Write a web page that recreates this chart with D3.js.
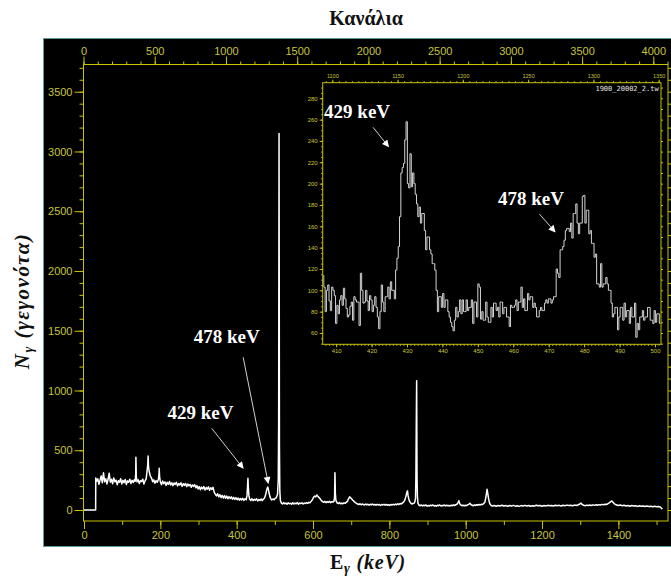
<!DOCTYPE html>
<html>
<head>
<meta charset="utf-8">
<script src="https://cdn.jsdelivr.net/npm/d3@7"></script>
<style>
  html, body { margin: 0; padding: 0; background: #ffffff; }
  svg { display: block; }
</style>
</head>
<body>
<script>
// ---------------- data ----------------
// Gamma spectrum: [energy in keV, counts]
const spectrum = [
  [0,0],[30.5,0],[30.8,268],[33,240],[36,262],[39,215],[42,250],[45,285],[48,228],[51,312],[54,236],[57,262],
  [60,218],[63,255],[66,308],[69,232],[72,258],[75,220],[78,268],[81,236],[84,250],[87,212],[90,245],[93,232],
  [96,262],[99,218],[102,248],[105,228],[108,256],[111,214],[114,244],[117,232],[120,258],[123,222],[126,248],
  [129,230],[132,252],[134,240],[135.5,300],[136,441],[137,280],[139,236],[142,252],[145,222],[148,246],[151,238],
  [154,258],[157,218],[160,244],[163,262],[165,320],[167,380],[168,452],[169,360],[171,318],[174,282],[177,268],
  [180,236],[183,252],[186,224],[189,246],[192,232],[195,258],[196.5,300],[197,349],[198,280],[200,236],[203,212],
  [206,242],[209,220],[212,236],[215,206],[218,232],[221,214],[224,238],[227,210],[230,228],[233,204],[236,226],
  [239,214],[242,232],[245,202],[248,222],[251,210],[254,228],[257,198],[260,220],[263,206],[266,222],[269,196],
  [272,218],[275,202],[278,214],[281,190],[284,210],[287,198],[290,212],[293,186],[296,204],[299,176],[302,196],
  [305,170],[308,192],[311,176],[314,196],[317,168],[320,188],[323,174],[326,194],[329,166],[332,186],[335,172],
  [338,190],[341,150],[344,132],[347,118],[350,136],[353,110],[356,128],[359,104],[362,122],[365,100],[368,120],
  [371,98],[374,116],[377,94],[380,112],[383,96],[386,110],[389,90],[392,106],[395,88],[398,104],[401,86],
  [404,100],[407,82],[410,96],[413,84],[416,98],[419,80],[422,94],[425,86],[427,120],[428.5,200],[429.5,265],
  [430.5,190],[432,120],[434,90],[437,80],[440,94],[443,78],[446,90],[449,82],[452,94],[455,76],[458,88],
  [461,80],[464,92],[467,78],[470,92],[473,100],[476,130],[478,160],[480,182],[481.5,192],[483,172],[485,140],
  [487,112],[489,96],[492,84],[495,92],[498,86],[501,98],[504,104],[507,130],[509,260],[510,740],[511,3150],
  [512,545],[513,160],[514.5,80],[517,58],[520,50],[523,62],[526,52],[529,58],[532,48],[535,60],[538,52],
  [541,57],[544,48],[547,60],[550,50],[553,58],[556,52],[559,62],[562,48],[565,58],[568,54],[571,60],[574,50],
  [577,58],[580,54],[583,62],[586,56],[589,64],[592,60],[595,72],[598,84],[601,104],[604,116],[607,110],[610,126],
  [613,112],[616,104],[619,92],[622,78],[625,70],[628,64],[631,72],[634,62],[637,70],[640,64],[643,72],[646,62],
  [649,70],[652,66],[655,74],[656.5,110],[657.5,312],[658.5,140],[660,80],[663,60],[666,54],[669,62],[672,52],
  [675,58],[678,52],[681,60],[684,56],[687,64],[690,72],[693,94],[696,110],[699,100],[702,90],[705,80],[708,70],
  [711,62],[714,56],[717,50],[720,46],[723,52],[726,44],[729,50],[732,46],[735,42],[738,50],[741,44],[744,48],
  [747,40],[750,48],[753,44],[756,50],[759,42],[762,46],[765,40],[768,48],[771,42],[774,46],[777,38],[780,46],
  [783,42],[786,48],[789,40],[792,46],[795,40],[798,44],[801,38],[804,46],[807,42],[810,48],[813,42],[816,50],
  [819,44],[822,52],[825,46],[828,54],[831,50],[834,58],[837,66],[840,80],[843,110],[846,150],[847.5,160],
  [849,120],[851,92],[853,72],[856,58],[859,50],[862,54],[865,58],[867,70],[868.5,100],[869.5,268],[870.5,711],
  [871.5,1082],[872.5,268],[873.5,110],[875,55],[878,40],[881,36],[884,42],[887,34],[890,40],[893,36],[896,42],
  [899,32],[902,38],[905,34],[908,40],[911,36],[914,42],[917,34],[920,38],[923,32],[926,40],[929,36],[932,42],
  [935,34],[938,38],[941,36],[944,42],[947,34],[950,40],[953,36],[956,38],[959,34],[962,40],[965,36],[968,42],
  [971,38],[974,44],[977,48],[980,62],[982,78],[984,56],[987,42],[990,36],[993,40],[996,34],[999,40],[1002,36],
  [1005,42],[1008,48],[1011,56],[1014,44],[1017,40],[1020,36],[1023,42],[1026,38],[1029,44],[1032,40],[1035,46],
  [1038,42],[1041,48],[1044,46],[1047,54],[1050,64],[1052,92],[1054,130],[1056,173],[1058,134],[1060,96],
  [1062,64],[1064,48],[1067,38],[1070,34],[1075,38],[1080,32],[1085,38],[1090,34],[1095,40],[1100,33],[1105,37],
  [1110,31],[1115,38],[1120,34],[1125,39],[1130,32],[1135,36],[1140,30],[1145,37],[1150,33],[1155,39],[1160,34],
  [1165,38],[1170,31],[1175,36],[1180,34],[1185,40],[1190,35],[1195,38],[1200,32],[1205,37],[1210,33],[1215,39],
  [1220,35],[1225,38],[1230,34],[1235,40],[1240,36],[1245,39],[1250,34],[1255,40],[1260,36],[1265,41],[1270,37],
  [1275,40],[1280,35],[1285,41],[1290,38],[1295,44],[1299,50],[1302,58],[1305,46],[1309,40],[1313,36],[1317,41],
  [1321,37],[1325,42],[1329,38],[1333,43],[1337,39],[1341,44],[1345,40],[1349,45],[1353,42],[1357,47],[1361,44],
  [1365,48],[1369,46],[1373,54],[1377,62],[1380,70],[1383,76],[1386,64],[1389,54],[1392,46],[1396,42],[1400,38],
  [1405,42],[1410,36],[1415,40],[1420,34],[1425,38],[1430,32],[1435,37],[1440,33],[1445,36],[1450,30],[1455,35],
  [1460,31],[1465,34],[1470,29],[1475,33],[1480,30],[1485,32],[1490,28],[1495,31],[1500,27],[1505,30],[1509,26],
  [1512,18],[1515,6]
];

// Zoomed region, counts per channel starting at insetFirstChannel
const insetFirstChannel = 1093;
const insetCounts = [
  114,103,80,100,105,90,81,103,100,95,69,86,78,91,95,86,102,92,83,75,
  77,85,89,72,94,91,89,89,67,116,100,88,89,100,90,81,95,91,80,86,
  94,84,75,64,80,105,89,80,94,94,103,92,108,100,100,92,119,130,141,169,
  210,215,219,241,258,200,196,228,197,210,200,190,181,169,178,163,172,172,156,138,
  150,150,138,134,125,125,119,100,80,94,94,84,97,84,91,91,80,75,70,66,
  62,72,84,75,80,91,78,91,80,80,91,81,84,84,91,69,89,89,75,106,
  103,73,80,72,72,89,75,70,70,84,75,88,88,81,84,75,89,89,78,84,
  84,75,75,66,86,84,84,86,91,81,89,89,103,84,92,81,81,97,91,94,
  94,84,88,84,75,75,81,84,81,81,88,91,88,92,92,88,91,94,94,120,
  116,112,138,138,141,147,156,158,158,155,163,149,172,172,181,163,153,163,163,188,
  189,163,175,175,153,156,144,144,131,134,106,106,103,125,103,106,106,112,106,100,
  100,88,75,78,84,84,63,75,84,84,72,88,75,81,81,69,84,75,75,88,
  56,69,63,75,75,81,72,75,75,84,84,72,72,69,81,70,78,78,69
];

// Axis tick labels
const keVTicks = [0, 200, 400, 600, 800, 1000, 1200, 1400];
const channelTicks = [0, 500, 1000, 1500, 2000, 2500, 3000, 3500, 4000];
const countTicks = [0, 500, 1000, 1500, 2000, 2500, 3000, 3500];
const insetKeVTicks = [410, 420, 430, 440, 450, 460, 470, 480, 490, 500];
const insetChannelTicks = [1100, 1150, 1200, 1250, 1300, 1350];
const insetCountTicks = [60, 80, 100, 120, 140, 160, 180, 200, 220, 240, 260, 280];

// Peak annotations (main panel in keV/counts, inset in keV/counts)
const mainNotes = [
  { label: "429 keV", at: [305, 761], from: [334.5, 684], to: [417, 349] },
  { label: "478 keV", at: [373.8, 1400], from: [417, 1278], to: [482.7, 223] }
];
const insetNotes = [
  { label: "429 keV", at: [415.9, 261.2], from: [420.4, 252.8], to: [424.8, 234.6] },
  { label: "478 keV", at: [465.0, 179.9], from: [467.4, 171.4], to: [471.8, 154.8] }
];
const insetFileName = "1900_20002_2.tw";

// ---------------- drawing ----------------
const W = 671, H = 577;
const AXIS = "#c8c400", AXIS_TEXT = "#c8c43c";
const TICK_FONT = "'Liberation Sans', Arial, sans-serif";

const svg = d3.select("body").append("svg").attr("width", W).attr("height", H);

const defs = svg.append("defs");
defs.append("marker")
  .attr("id", "arrow").attr("viewBox", "0 0 10 10")
  .attr("refX", 9).attr("refY", 5)
  .attr("markerWidth", 9).attr("markerHeight", 7)
  .attr("markerUnits", "userSpaceOnUse")
  .attr("orient", "auto")
  .append("path").attr("d", "M0,0 L10,5 L0,10 Z").attr("fill", "#ffffff");

// dark plotting panel
svg.append("rect").attr("x", 43.5).attr("y", 38.5).attr("width", 640).attr("height", 508)
  .attr("fill", "#000000").attr("stroke", "#5f9a9a").attr("stroke-width", 1);

// main scales
const frame = { left: 83.5, right: 668, top: 64.5, bottom: 521 };
const x = d3.scaleLinear().domain([0, 1530]).range([84, 668]);
const xCh = d3.scaleLinear().domain([0, 4103]).range([83.5, 668]);
const y = d3.scaleLinear().domain([-92, 3732]).range([521, 64]);

function styleAxis(g, fontSize) {
  g.select(".domain").remove();
  g.selectAll(".tick line").attr("stroke", AXIS).attr("stroke-width", 1);
  g.selectAll(".tick text").attr("fill", AXIS_TEXT)
    .style("font-family", TICK_FONT).style("font-size", fontSize + "px");
}
function addAxis(axis, tx, ty, fontSize) {
  const g = svg.append("g").attr("transform", `translate(${tx},${ty})`).call(axis);
  styleAxis(g, fontSize);
  return g;
}

// main frame
svg.append("rect").attr("x", frame.left).attr("y", frame.top)
  .attr("width", frame.right - frame.left).attr("height", frame.bottom - frame.top)
  .attr("fill", "none").attr("stroke", AXIS).attr("stroke-width", 1);

// left axis (counts)
addAxis(d3.axisLeft(y).tickValues(d3.range(0, 3701, 100)).tickSize(4).tickFormat(""), frame.left, 0, 10);
addAxis(d3.axisLeft(y).tickValues(countTicks).tickSize(9).tickPadding(2).tickFormat(d3.format("d")), frame.left, 0, 11);
// right axis minor ticks
addAxis(d3.axisRight(y).tickValues(d3.range(0, 3701, 100)).tickSize(3).tickFormat(""), frame.right, 0, 10);
// bottom axis (keV)
addAxis(d3.axisBottom(x).tickValues(d3.range(0, 1501, 100)).tickSize(4).tickFormat(""), 0, frame.bottom, 10);
addAxis(d3.axisBottom(x).tickValues(keVTicks).tickSize(8).tickPadding(2).tickFormat(d3.format("d")), 0, frame.bottom, 11);
// top axis (channels)
addAxis(d3.axisTop(xCh).tickValues(d3.range(0, 4101, 100)).tickSize(3).tickFormat(""), 0, frame.top, 10);
addAxis(d3.axisTop(xCh).tickValues(channelTicks).tickSize(8).tickPadding(2).tickFormat(d3.format("d")), 0, frame.top, 11);

// main spectrum
defs.append("clipPath").attr("id", "mainClip").append("rect")
  .attr("x", frame.left + 0.5).attr("y", frame.top + 0.5)
  .attr("width", frame.right - frame.left - 1).attr("height", frame.bottom - frame.top - 1);
svg.append("path").datum(spectrum)
  .attr("clip-path", "url(#mainClip)")
  .attr("fill", "none").attr("stroke", "#ffffff").attr("stroke-width", 1.5)
  .attr("stroke-linejoin", "round")
  .attr("d", d3.line().x(d => x(d[0])).y(d => y(d[1])));

// ---------- inset ----------
const inset = { left: 322.7, right: 661, top: 82.7, bottom: 344.3 };
const ix = d3.scaleLinear().domain([406.2, 501.7]).range([inset.left, inset.right]);
const ixCh = d3.scaleLinear().domain([1092.65, 1351.8]).range([inset.left, inset.right]);
const iy = d3.scaleLinear().domain([49.4, 294.6]).range([inset.bottom, inset.top]);

svg.append("rect").attr("x", inset.left).attr("y", inset.top)
  .attr("width", inset.right - inset.left).attr("height", inset.bottom - inset.top)
  .attr("fill", "#000000").attr("stroke", AXIS).attr("stroke-width", 1);

addAxis(d3.axisLeft(iy).tickValues(d3.range(50, 291, 5)).tickSize(1.5).tickFormat(""), inset.left, 0, 6);
addAxis(d3.axisLeft(iy).tickValues(insetCountTicks).tickSize(3).tickPadding(2).tickFormat(d3.format("d")), inset.left, 0, 6);
addAxis(d3.axisRight(iy).tickValues(d3.range(50, 291, 10)).tickSize(2).tickFormat(""), inset.right, 0, 6);
addAxis(d3.axisBottom(ix).tickValues(d3.range(407, 502, 1)).tickSize(1.5).tickFormat(""), 0, inset.bottom, 6);
addAxis(d3.axisBottom(ix).tickValues(insetKeVTicks).tickSize(3).tickPadding(1.5).tickFormat(d3.format("d")), 0, inset.bottom, 6);
addAxis(d3.axisTop(ixCh).tickValues(d3.range(1095, 1351, 5)).tickSize(1.5).tickFormat(""), 0, inset.top, 5.5);
addAxis(d3.axisTop(ixCh).tickValues(insetChannelTicks).tickSize(3).tickPadding(1.5).tickFormat(d3.format("d")), 0, inset.top, 5.5);

defs.append("clipPath").attr("id", "insetClip").append("rect")
  .attr("x", inset.left + 0.5).attr("y", inset.top + 0.5)
  .attr("width", inset.right - inset.left - 1).attr("height", inset.bottom - inset.top - 1);

const insetPoints = insetCounts.map((c, i) => [insetFirstChannel + i - 0.5, c]);
insetPoints.push([insetFirstChannel + insetCounts.length - 0.5, insetCounts[insetCounts.length - 1]]);
svg.append("path").datum(insetPoints)
  .attr("clip-path", "url(#insetClip)")
  .attr("fill", "none").attr("stroke", "#d4d4d4").attr("stroke-width", 1)
  .attr("d", d3.line().curve(d3.curveStepAfter).x(d => ixCh(d[0])).y(d => iy(d[1])));

svg.append("text")
  .attr("x", ixCh(1350)).attr("y", iy(286.5))
  .attr("text-anchor", "end").attr("fill", "#e6e6e6")
  .style("font-family", "'DejaVu Sans Mono', monospace").style("font-size", "7px")
  .text(insetFileName);

// ---------- annotations ----------
const NOTE_FONT = "'Liberation Serif', 'Times New Roman', serif";
function drawNotes(notes, sx, sy) {
  notes.forEach(n => {
    svg.append("line")
      .attr("x1", sx(n.from[0])).attr("y1", sy(n.from[1]))
      .attr("x2", sx(n.to[0])).attr("y2", sy(n.to[1]))
      .attr("stroke", "#cfcfcf").attr("stroke-width", 1)
      .attr("marker-end", "url(#arrow)");
    svg.append("text")
      .attr("x", sx(n.at[0])).attr("y", sy(n.at[1]))
      .attr("text-anchor", "middle").attr("fill", "#ffffff")
      .style("font-family", NOTE_FONT).style("font-weight", "bold").style("font-size", "19px")
      .text(n.label);
  });
}
drawNotes(mainNotes, x, y);
drawNotes(insetNotes, ix, iy);

// ---------- titles ----------
svg.append("text")
  .attr("x", 366).attr("y", 25).attr("text-anchor", "middle").attr("fill", "#111111")
  .style("font-family", NOTE_FONT).style("font-size", "20px").style("font-weight", "bold")
  .text("Κανάλια");

const xTitle = svg.append("text")
  .attr("x", 368).attr("y", 569).attr("text-anchor", "middle").attr("fill", "#111111")
  .style("font-family", NOTE_FONT).style("font-size", "20px").style("font-weight", "bold")
  .style("letter-spacing", "0.8px");
xTitle.append("tspan").text("E");
xTitle.append("tspan").attr("dy", 4).style("font-size", "14px").style("font-style", "italic").text("γ");
xTitle.append("tspan").attr("dy", -4).style("font-style", "italic").text(" (keV)");

const yTitle = svg.append("text")
  .attr("transform", "translate(29,301) rotate(-90)")
  .attr("text-anchor", "middle").attr("fill", "#111111")
  .style("font-family", NOTE_FONT).style("font-size", "21px")
  .style("font-weight", "bold").style("font-style", "italic")
  .style("letter-spacing", "1.5px");
yTitle.append("tspan").text("N");
yTitle.append("tspan").attr("dy", 4).style("font-size", "14px").text("γ");
yTitle.append("tspan").attr("dy", -4).text(" (γεγονότα)");
</script>
</body>
</html>
